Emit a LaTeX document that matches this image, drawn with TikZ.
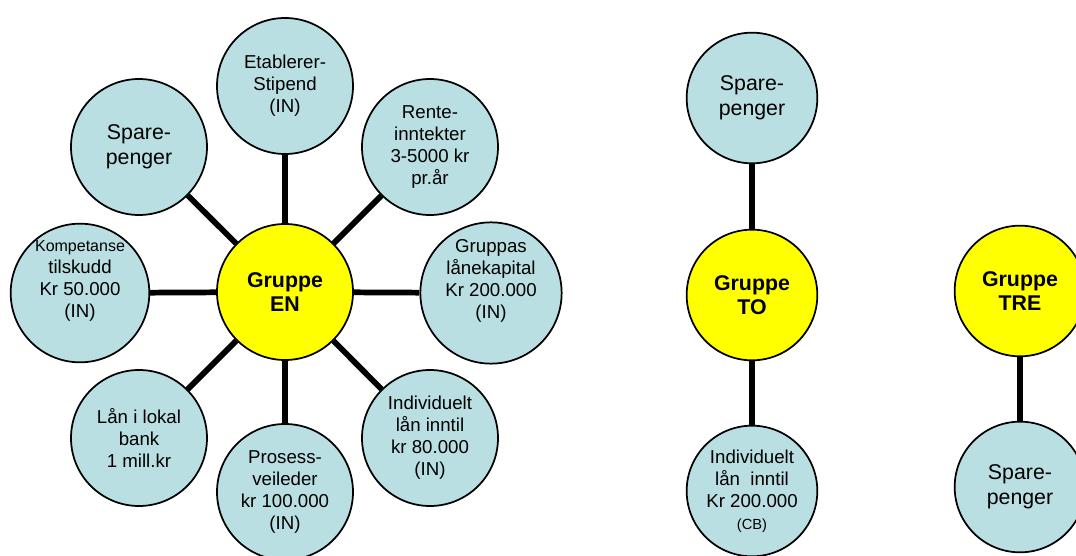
\documentclass[tikz,border=0pt]{standalone}
\usepackage{fontspec}
\setmainfont{Liberation Sans}
\usetikzlibrary{positioning}
\definecolor{bubblefill}{HTML}{B9DFE2}
\definecolor{hubfill}{HTML}{FFFF00}

\begin{document}
\begin{tikzpicture}[x=0.75pt, y=-0.75pt, every node/.style={font=\fontsize{14}{16.5}\selectfont}, bubble/.style={draw, circle, fill=bubblefill, line width=1.3pt, align=center, inner sep=0pt, minimum size=102pt}, hub/.style={bubble, fill=hubfill, font=\fontsize{16}{18.5}\selectfont\bfseries}, rbubble/.style={bubble, minimum size=98pt}, rhub/.style={hub, minimum size=98pt}, bigtext/.style={font=\fontsize{16}{19}\selectfont}, spoke/.style={line width=4.3pt}]
        \useasboundingbox (0,0) rectangle (1076,556);
        % Gruppe EN
        \node[hub] (en) at (285,292) {Gruppe\\EN};
        \node[bubble] (etab) at (285,86) {Etablerer-\\Stipend\\(IN)};
        \node[bubble, bigtext] (spare1) at (139,147) {Spare-\\penger};
        \node[bubble] (rente) at (430,147) {Rente-\\inntekter\\3-5000 kr\\pr.år};
        \node[bubble] (komp) at (80,293) {{\fontsize{12}{14}\selectfont Kompetanse}\\tilskudd\\Kr 50.000\\(IN)\\\strut};
        \node[bubble] (grupp) at (491,293) {Gruppas\\lånekapital\\Kr 200.000\\(IN)\\\strut};
        \node[bubble] (laan) at (139,438) {Lån i lokal\\bank\\1 mill.kr};
        \node[bubble] (indiv1) at (430,438) {Individuelt\\lån inntil\\kr 80.000\\(IN)};
        \node[bubble] (prosess) at (285,492) {Prosess-\\veileder\\kr 100.000\\(IN)};
        \foreach \s in {etab,spare1,rente,komp,grupp,laan,indiv1,prosess}
          \draw[spoke] (en) -- (\s);
        % Gruppe TO
        \node[rbubble, bigtext] (spare2) at (752,98) {Spare-\\penger};
        \node[rhub] (to) at (752,295) {Gruppe\\TO};
        \node[rbubble] (indiv2) at (752,491) {Individuelt\\lån~~inntil\\Kr 200.000\\{\fontsize{11}{13}\selectfont (CB)}};
        \draw[spoke] (spare2) -- (to);
        \draw[spoke] (to) -- (indiv2);
        % Gruppe TRE
        \node[rhub] (tre) at (1020,291) {Gruppe\\TRE};
        \node[rbubble, bigtext] (spare3) at (1020,487) {Spare-\\penger};
        \draw[spoke] (tre) -- (spare3);
      \end{tikzpicture}
\end{document}
